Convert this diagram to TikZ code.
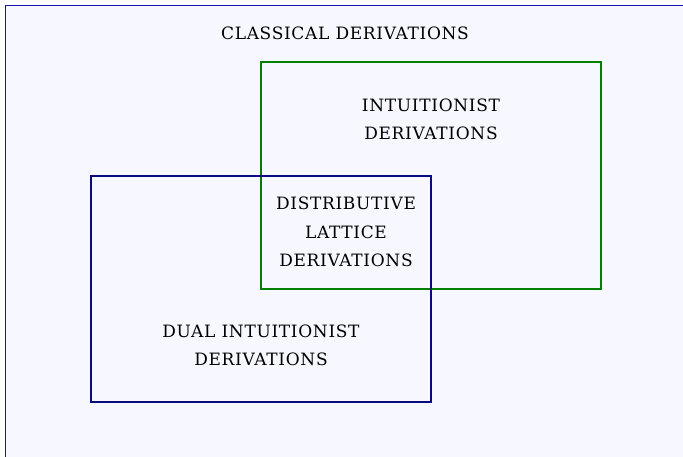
\documentclass[tikz,border=0pt]{standalone}
\usepackage{fontspec}
\setmainfont{DejaVu Serif}[LetterSpace=4]
\definecolor{bgfill}{RGB}{247,247,255}
\definecolor{navyline}{RGB}{10,10,128}
\definecolor{frameline}{RGB}{20,20,170}
\definecolor{greenline}{RGB}{0,128,0}
\tikzset{
  region/.style={line width=2pt},
  label/.style={align=center, font=\fontsize{17}{28.3}\selectfont, text=black},
}
\begin{document}
\begin{tikzpicture}[x=1pt,y=-1pt]
  \useasboundingbox (0,0) rectangle (683,457);
  \clip (0,0) rectangle (683,457);
  % outer frame: the set of classical derivations
  \draw[frameline, fill=bgfill, line width=1.4pt] (5.5,5.5) rectangle (700,480);
  \node[label] (classical) at (345,33.5) {CLASSICAL DERIVATIONS};
  % intuitionist region
  \draw[region, greenline] (261,62) rectangle (601,289);
  \node[label] (intu) at (431,119) {INTUITIONIST\\DERIVATIONS};
  % dual intuitionist region
  \draw[region, navyline] (91,176) rectangle (431,402);
  \node[label] (dual) at (261,345) {DUAL INTUITIONIST\\DERIVATIONS};
  % overlap
  \node[label] (lattice) at (346,232) {DISTRIBUTIVE\\LATTICE\\DERIVATIONS};
\end{tikzpicture}
\end{document}
